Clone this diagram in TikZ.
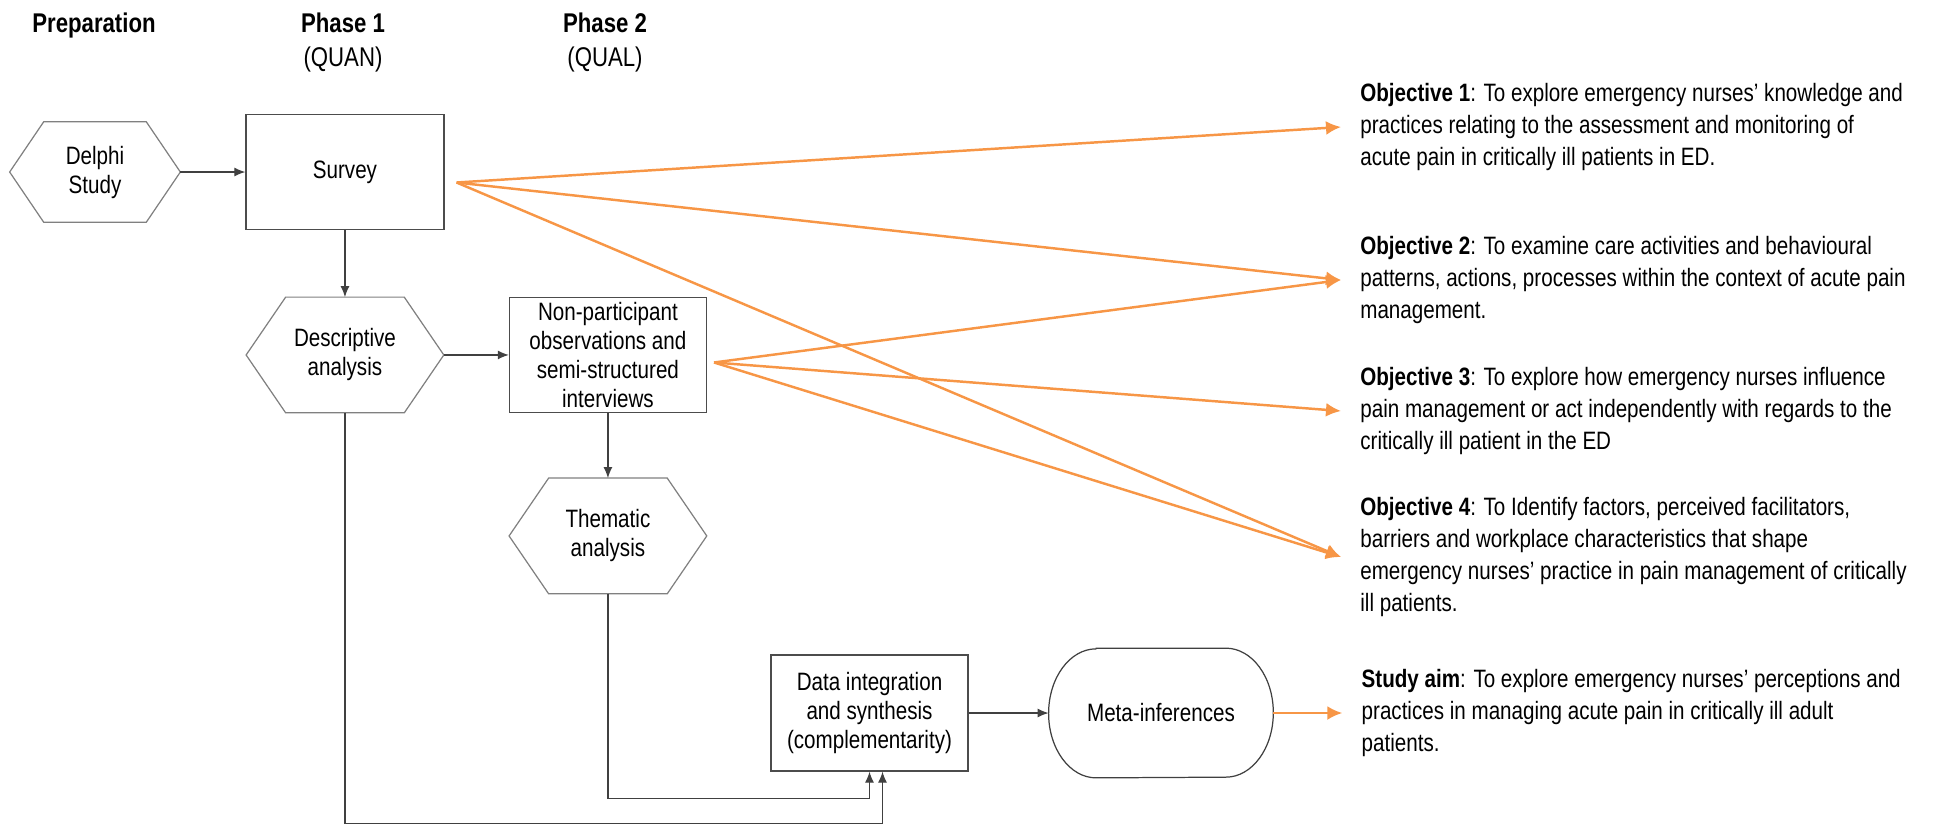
\documentclass[tikz,border=0pt]{standalone}
\usepackage{fontspec}
\setmainfont[FakeStretch=0.82]{Liberation Sans}
\usepackage{tikz}
\usetikzlibrary{arrows.meta,positioning,calc}
\definecolor{objorange}{RGB}{247,150,70}
\definecolor{shapegray}{RGB}{128,128,128}

\begin{document}
\begin{tikzpicture}[
  font=\fontsize{14.3}{16.5}\selectfont,
  box/.style={draw=black!70, line width=0.7pt, minimum width=3.96cm,
    minimum height=2.3cm, align=center, inner xsep=2pt, inner ysep=0pt},
  hexa/.style={minimum width=3.94cm, minimum height=2.3cm, align=center},
  hexline/.style={draw=shapegray, line width=0.7pt},
  arr/.style={-{Latex[length=2.2mm,width=1.8mm]}, line width=0.7pt, black!75},
  objarr/.style={-{Latex[length=3mm,width=2.8mm]}, line width=1.4pt, objorange},
  head/.style={font=\fontsize{15.4}{19.9}\selectfont, align=center},
  obj/.style={anchor=west, align=left, inner xsep=0.38cm, inner ysep=0pt,
    font=\fontsize{14.3}{18.2}\selectfont}
]
\useasboundingbox (0,0) rectangle (38.9,-16.5);

% column headings
\node[head] (prep) at (1.88,-0.5) {\textbf{Preparation}};
\node[head] (phase1) at (6.86,-0.85) {\textbf{Phase 1}\\(QUAN)};
\node[head] (phase2) at (12.1,-0.85) {\textbf{Phase 2}\\(QUAL)};

% study steps
\node[hexa, minimum width=3.4cm, minimum height=2cm] (delphi) at (1.9,-3.44) {Delphi\\Study};
\node[box, right=1.3cm of delphi] (survey) {Survey};
\node[hexa, below=1.34cm of survey] (descr) {Descriptive\\analysis};
\node[box, minimum width=3.94cm, right=1.3cm of descr] (obs) {Non-participant\\observations and\\semi-structured\\interviews};
\node[hexa, below=1.3cm of obs] (thema) {Thematic\\analysis};
\node[box, minimum width=3.94cm, minimum height=2.32cm] (integ) at (17.39,-14.26) {Data integration\\and synthesis\\(complementarity)};
\node[minimum width=4.48cm, minimum height=2.58cm, right=1.6cm of integ] (meta) {Meta-inferences};

\foreach \n in {delphi,descr,thema}
  \draw[hexline] (\n.west) -- ($(\n.north west)!0.2!(\n.north east)$)
    -- ($(\n.north west)!0.8!(\n.north east)$) -- (\n.east)
    -- ($(\n.south west)!0.8!(\n.south east)$)
    -- ($(\n.south west)!0.2!(\n.south east)$) -- cycle;
\draw[draw=black!75, line width=0.7pt]
  ($(meta.north west)+(0.95,0)$) -- ($(meta.north east)+(-0.95,0)$)
  arc[start angle=90, end angle=-90, x radius=0.95, y radius=1.29]
  -- ($(meta.south west)+(0.95,0)$)
  arc[start angle=270, end angle=90, x radius=0.95, y radius=1.29] -- cycle;

% objectives
\node[obj] (obj1) at (26.82,-2.54) {\textbf{Objective 1}: To explore emergency nurses’ knowledge and\\practices relating to the assessment and monitoring of\\acute pain in critically ill patients in ED.};
\node[obj] (obj2) at (26.82,-5.6) {\textbf{Objective 2}: To examine care activities and behavioural\\patterns, actions, processes within the context of acute pain\\management.};
\node[obj] (obj3) at (26.82,-8.22) {\textbf{Objective 3}: To explore how emergency nurses influence\\pain management or act independently with regards to the\\critically ill patient in the ED};
\node[obj] (obj4) at (26.82,-11.14) {\textbf{Objective 4}: To Identify factors, perceived facilitators,\\barriers and workplace characteristics that shape\\emergency nurses’ practice in pain management of critically\\ill patients.};
\node[obj, right=1.38cm of meta] (aim) {\textbf{Study aim}: To explore emergency nurses’ perceptions and\\practices in managing acute pain in critically ill adult\\patients.};

% black connectors
\draw[arr] (delphi) -- (survey);
\draw[arr] (survey) -- (descr);
\draw[arr] (descr) -- (obs);
\draw[arr] (obs) -- (thema);
\draw[arr] (integ) -- (meta);
\coordinate (tbend) at ($(integ.south)+(0,-0.54)$);
\coordinate (dbend) at ($(integ.south)+(0.26,-1.04)$);
\draw[arr] (thema.south) |- (tbend) -- (tbend |- integ.south);
\draw[arr] (descr.south) |- (dbend) -- (dbend |- integ.south);

% orange fans
\coordinate (sfan) at ($(survey.east)+(0.24,-0.21)$);
\coordinate (ofan) at ($(obs.east)+(0.14,-0.15)$);
\foreach \t in {obj1,obj2,obj4}
  \draw[objarr] (sfan) -- (\t.west);
\foreach \t in {obj2,obj3,obj4}
  \draw[objarr] (ofan) -- (\t.west);
\draw[objarr] (meta) -- (aim);
\end{tikzpicture}
\end{document}
